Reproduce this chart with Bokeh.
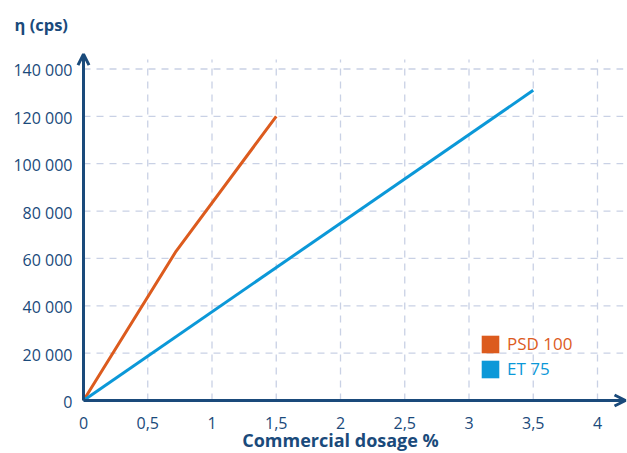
from bokeh.plotting import figure
from bokeh.models import Range1d, Label, Arrow, OpenHead, Legend, LegendItem
from bokeh.core.properties import value
from bokeh.embed import file_html
from bokeh.resources import INLINE

# ---- data ----
psd_x = [0, 0.72, 1.5]
psd_y = [0, 63000, 120000]
et_x = [0, 3.5]
et_y = [0, 131000]
x_ticks = [0, 0.5, 1, 1.5, 2, 2.5, 3, 3.5, 4]
x_labels = ["0", "0,5", "1", "1,5", "2", "2,5", "3", "3,5", "4"]
y_ticks = [0, 20000, 40000, 60000, 80000, 100000, 120000, 140000]
y_labels = ["0", "20 000", "40 000", "60 000", "80 000", "100 000", "120 000", "140 000"]
series_names = ["PSD 100", "ET 75"]
x_title = "Commercial dosage %"
y_title = "η (cps)"

ORANGE = "#dc5b1e"
BLUE = "#0b98d8"
NAVY = "#1a4a7b"
GRID = "#c9d1e5"
FONT = "Open Sans"

W, H = 627, 453
# plot area geometry (pixels): x=0 at 83px, 128.5 px per unit; y=0 at 400px, 47.36 px per 20 000
PX_X, X0 = 128.5, 83
PX_Y, Y0 = 47.36 / 20000, 400
x_range = Range1d(-X0 / PX_X, (W - X0) / PX_X)
y_range = Range1d(-(H - Y0) / PX_Y, Y0 / PX_Y)

GRID_X_END = 4.2
GRID_Y_END = 144000
ARROW_X_END = 4.218
ARROW_Y_END = 146300

p = figure(width=W, height=H, output_backend="svg", toolbar_location=None, title=None,
           x_range=x_range, y_range=y_range, x_axis_location=None, y_axis_location=None,
           min_border=0)
p.outline_line_color = None
p.background_fill_color = "white"
p.border_fill_color = "white"
p.grid.visible = False

# dashed grid lines at tick positions
p.segment(x0=x_ticks[1:], y0=[0] * (len(x_ticks) - 1), x1=x_ticks[1:], y1=[GRID_Y_END] * (len(x_ticks) - 1),
          line_color=GRID, line_dash="7 6", line_width=1.3)
p.segment(x0=[0] * (len(y_ticks) - 1), y0=y_ticks[1:], x1=[GRID_X_END] * (len(y_ticks) - 1), y1=y_ticks[1:],
          line_color=GRID, line_dash="7 6", line_width=1.3)

# series
p.line(psd_x, psd_y, line_width=3, line_color=ORANGE)
p.line(et_x, et_y, line_width=3, line_color=BLUE)

# axes with arrows
p.add_layout(Arrow(x_start=0, y_start=0, x_end=ARROW_X_END, y_end=0, line_width=3, line_color=NAVY,
                   end=OpenHead(size=11, line_width=3, line_color=NAVY)))
p.add_layout(Arrow(x_start=0, y_start=0, x_end=0, y_end=ARROW_Y_END, line_width=3, line_color=NAVY,
                   end=OpenHead(size=11, line_width=3, line_color=NAVY)))

# tick labels
p.text(x=x_ticks, y=[0] * len(x_ticks), text=x_labels, y_offset=22,
       text_font=value(FONT), text_font_size="16px", text_color=NAVY,
       text_align="center", text_baseline="middle")
p.text(x=[0] * len(y_ticks), y=y_ticks, text=y_labels, x_offset=-11, y_offset=1.5,
       text_font=value(FONT), text_font_size="16px", text_color=NAVY,
       text_align="right", text_baseline="middle")

# titles
p.add_layout(Label(x=14, y=H - 24, x_units="screen", y_units="screen", text=y_title,
                   text_font=FONT, text_font_style="bold", text_font_size="16.5px",
                   text_color=NAVY, text_baseline="alphabetic"))
p.add_layout(Label(x=2, y=14, x_units="data", y_units="screen", text=x_title,
                   text_font=FONT, text_font_style="bold", text_font_size="18px",
                   text_color=NAVY, text_align="center", text_baseline="alphabetic"))

# legends (one per series, for coloured labels); zero-area swatch renderers at the origin
r1 = p.quad(left=psd_x[:1], right=psd_x[:1], top=psd_y[:1], bottom=psd_y[:1],
            fill_color=ORANGE, line_color=None)
r2 = p.quad(left=et_x[:1], right=et_x[:1], top=et_y[:1], bottom=et_y[:1],
            fill_color=BLUE, line_color=None)
for r, name, col, yloc in ((r1, series_names[0], ORANGE, 98), (r2, series_names[1], BLUE, 73)):
    lg = Legend(items=[LegendItem(label=name, renderers=[r])], location=(479, yloc),
                padding=0, margin=0, glyph_width=22, glyph_height=22, label_height=22,
                label_standoff=6, border_line_color=None, background_fill_alpha=0,
                label_text_font=FONT, label_text_font_size="17px", label_text_color=col)
    p.add_layout(lg)

open("out.html", "w").write(file_html(p, INLINE))
